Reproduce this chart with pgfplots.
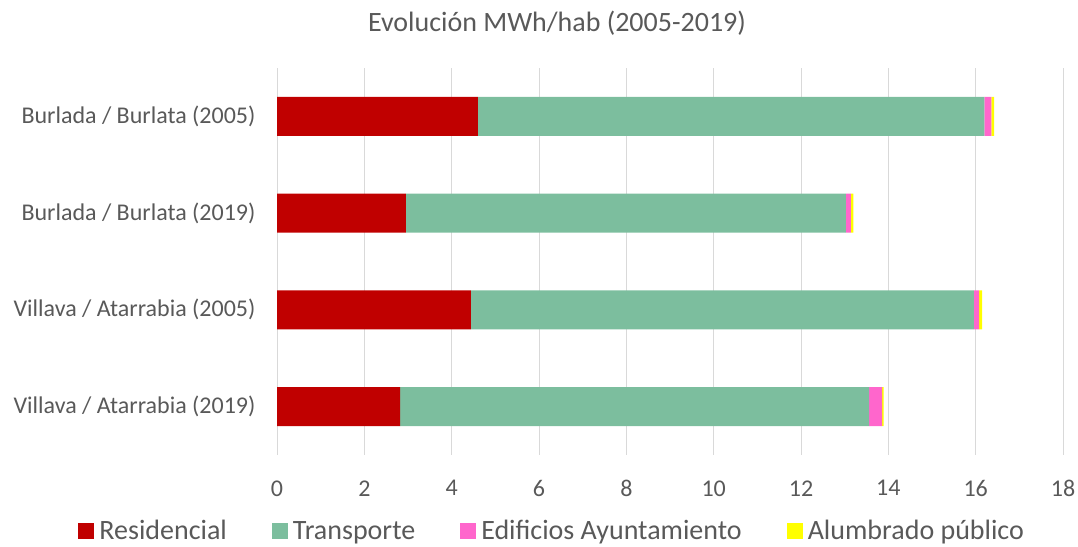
\documentclass[border=0pt]{standalone}
\usepackage{pgfplots}
\pgfplotsset{compat=1.18}
\usepackage{fontspec}
\setmainfont{Carlito}
\definecolor{res}{RGB}{192,0,0}
\definecolor{tra}{RGB}{124,190,158}
\definecolor{edi}{RGB}{255,102,204}
\definecolor{alu}{RGB}{255,255,0}
\definecolor{txt}{RGB}{89,89,89}
\definecolor{grd}{RGB}{217,217,217}
\begin{document}
\begin{tikzpicture}[x=1pt,y=1pt]
\path[use as bounding box] (0,0) rectangle (1078,546);
\node[text=txt,font=\fontsize{28}{32}\selectfont] at (557,523) {Evolución MWh/hab (2005-2019)};
\begin{axis}[
  at={(277pt,91pt)}, anchor=south west,
  scale only axis, width=786pt, height=387pt,
  xbar stacked, bar width=39pt,
  xmin=0, xmax=18, xtick={0,2,...,18},
  ymin=-0.5, ymax=3.5, y dir=reverse,
  ytick={0,1,2,3},
  yticklabels={Burlada / Burlata (2005),Burlada / Burlata (2019),Villava / Atarrabia (2005),Villava / Atarrabia (2019)},
  axis line style={draw=none},
  major tick style={draw=none},
  xmajorgrids, major grid style={grd, line width=1pt},
  ticklabel style={text=txt, font=\fontsize{24}{28}\selectfont},
  /pgf/number format/assume math mode=true,
  xticklabel style={yshift=-22pt},
  yticklabel style={xshift=-18pt},
  legend style={at={(0.352,-0.196)}, anchor=center, draw=none, fill=none,
    legend columns=-1, font=\fontsize{28}{32}\selectfont, text=txt,
    nodes={inner xsep=5pt},
    /tikz/every even column/.append style={column sep=40pt}},
  legend image code/.code={\fill[#1] (0pt,-8pt) rectangle (16pt,8pt);},
]
\addplot[fill=res, draw=none] coordinates {(4.60,0) (2.95,1) (4.44,2) (2.82,3)};
\addplot[fill=tra, draw=none] coordinates {(11.60,0) (10.08,1) (11.52,2) (10.74,3)};
\addplot[fill=edi, draw=none] coordinates {(0.16,0) (0.11,1) (0.12,2) (0.30,3)};
\addplot[fill=alu, draw=none] coordinates {(0.06,0) (0.06,1) (0.07,2) (0.03,3)};
\legend{Residencial,Transporte,Edificios Ayuntamiento,Alumbrado público}
\end{axis}
\end{tikzpicture}
\end{document}
